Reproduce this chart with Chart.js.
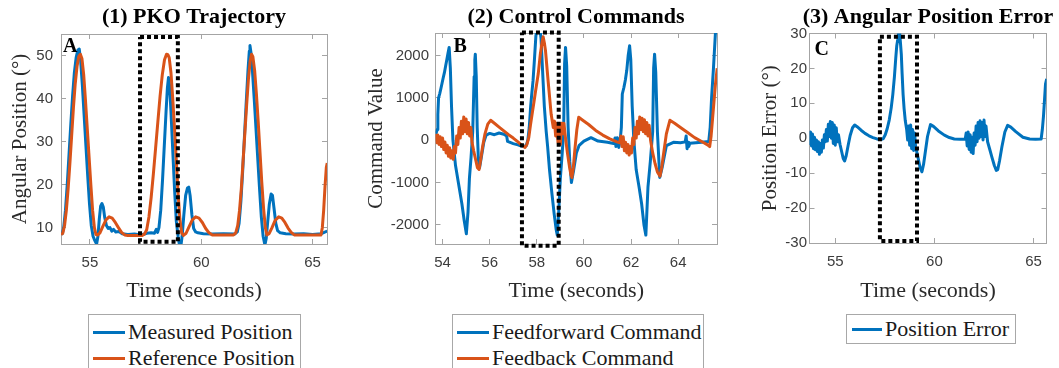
<!DOCTYPE html>
<html><head><meta charset="utf-8">
<script src="https://cdn.jsdelivr.net/npm/chart.js@4.4.1/dist/chart.umd.min.js"></script>
<style>
html,body{margin:0;padding:0;background:#fff;width:1059px;height:368px;overflow:hidden;position:relative;}
.panel{position:absolute;top:0;}
.legend{position:absolute;border:1px solid #a8a8a8;background:#fff;font-family:"Liberation Serif","Times New Roman",serif;font-size:22px;color:#1a1a1a;box-sizing:border-box;}
.item{position:absolute;left:0;height:26px;display:flex;align-items:center;white-space:nowrap;}
.swatch{display:inline-block;height:3px;margin-right:3px;}
</style></head><body>
<script>
// ---------------- DATA ----------------
// Panel 1: PKO trajectory (degrees)
const measuredTime = [53.70,53.76,53.82,53.90,53.98,54.06,54.14,54.22,54.30,54.38,54.46,54.52,54.58,54.66,54.74,54.82,54.90,54.98,55.06,55.14,55.22,55.30,55.36,55.42,55.48,55.54,55.60,55.66,55.74,55.82,55.90,55.98,56.06,56.16,56.30,56.45,56.70,57.00,57.30,57.55,57.75,57.90,57.98,58.04,58.10,58.18,58.26,58.34,58.42,58.48,58.53,58.58,58.64,58.72,58.80,58.88,58.96,59.02,59.08,59.14,59.22,59.30,59.38,59.44,59.50,59.58,59.66,59.75,59.85,60.10,60.50,61.00,61.50,61.62,61.70,61.78,61.86,61.94,62.02,62.10,62.16,62.19,62.24,62.30,62.38,62.46,62.54,62.62,62.70,62.78,62.86,62.92,62.98,63.06,63.14,63.20,63.27,63.35,63.43,63.55,63.80,64.20,64.60,65.00,65.40,65.66];
const measuredPosition = [8.8,8.6,10,14,20,27,34,40.5,46,49.5,51.3,51.5,49,43,36,29,22,15.5,10.5,8,7,6.2,8,12,15,15.6,14.8,12.5,10.5,9.8,10,9.2,9.6,9,9.1,8.6,8.4,8.5,8.3,8.7,8.8,8.7,9.6,8.9,10,14,21,29,37,42.5,44.9,43,37,28,19,11.5,8,6,5.5,8,13,17.5,19.2,19.4,17.5,13,9.8,9,8.8,8.6,8.5,8.6,8.5,9,11,16,23,31,39,46.5,51,52.3,50.5,46.5,40,33,26,19,12.5,8,6,7.5,11,15.5,17.8,17.5,14.5,11,9.3,8.8,8.6,8.5,8.6,8.4,8.6,9.2];
const referenceTime = [53.70,53.78,53.86,53.94,54.02,54.10,54.18,54.26,54.34,54.42,54.50,54.57,54.64,54.72,54.80,54.88,54.96,55.04,55.12,55.20,55.27,55.35,55.45,55.58,55.72,55.86,56.00,56.14,56.28,56.42,56.56,56.70,57.35,57.45,57.55,57.65,57.75,57.85,57.95,58.05,58.15,58.25,58.35,58.44,58.50,58.56,58.64,58.72,58.80,58.88,58.96,59.04,59.12,59.20,59.32,59.45,59.60,59.75,59.90,60.05,60.20,60.35,60.50,61.45,61.55,61.64,61.72,61.80,61.88,61.96,62.04,62.12,62.20,62.26,62.32,62.40,62.48,62.56,62.64,62.72,62.80,62.88,62.95,63.05,63.18,63.32,63.48,63.62,63.76,63.90,64.04,64.18,65.38,65.44,65.50,65.56,65.62,65.66];
const referencePosition = [8.4,8.7,10.5,14,19,25,31.5,38,43.5,47.5,49.8,50.3,49.3,45.5,39.5,33,26.5,20,14,10,8.4,8.3,8.8,10.3,11.8,12.5,12.2,11.2,10,8.9,8.3,8.2,8.2,8.5,9.5,12.5,17,22.5,28.5,34.5,40.5,45.5,49,50.3,50.2,49.5,46,40,33,25.5,18,12,8.8,8.2,8.7,10.2,11.8,12.5,12.2,11.2,9.8,8.8,8.3,8.3,8.8,10.5,14,19,25.5,32,38.5,44.5,48.8,50.3,49.7,46.5,41,34.5,27.5,20.5,14.5,10,8.3,8.6,10,11.7,12.5,12.2,11.2,9.9,8.9,8.3,8.3,10,14,19.5,24,25];

// Panel 2: control commands
const feedforwardTime = [53.72,53.77,53.80,53.83,53.88,53.93,53.98,54.03,54.08,54.13,54.18,54.23,54.28,54.33,54.38,54.44,54.55,54.70,54.82,54.92,55.01,55.08,55.14,55.21,55.28,55.34,55.37,55.39,55.43,55.47,55.52,55.57,55.64,55.75,55.85,56.00,56.20,56.40,56.60,56.72,56.76,57.00,57.20,57.40,57.55,57.62,57.68,57.74,57.78,57.84,57.90,57.96,58.02,58.12,58.18,58.24,58.32,58.40,58.46,58.54,58.64,58.74,58.82,58.87,58.93,59.00,59.08,59.14,59.18,59.22,59.27,59.33,59.40,59.47,59.56,59.68,59.80,60.00,60.30,60.60,61.00,61.26,61.32,61.36,61.42,61.48,61.54,61.59,61.63,61.70,61.76,61.82,61.88,61.94,61.99,62.05,62.12,62.22,62.34,62.45,62.55,62.63,62.72,62.82,62.92,62.96,63.00,63.05,63.12,63.22,63.32,63.50,63.80,64.10,64.30,64.34,64.38,64.42,64.45,64.50,65.00,65.30,65.36,65.42,65.50,65.58,65.66];
const feedforwardCommand = [150,250,600,1000,1100,1220,1350,1480,1600,1750,1900,2050,2190,1700,800,0,-600,-1100,-1500,-1900,-2210,-1700,-900,-400,200,1500,1900,2030,1500,300,-450,-650,-420,-50,120,160,130,170,140,100,-30,-80,-110,-150,-130,0,300,800,1050,1400,1900,2450,2700,2700,2400,1700,800,200,-150,-700,-1250,-1750,-2100,-2240,-1700,-900,-300,220,1800,2190,1750,300,-500,-1000,-720,-300,-120,-20,60,-20,-50,-80,50,-150,60,-170,0,300,1090,1250,1420,1650,2000,2230,1900,800,0,-700,-1100,-1500,-2000,-2240,-1100,-500,200,1700,2030,1600,200,-880,-650,-130,-50,-60,-40,100,-200,-50,-150,-70,-50,-30,300,1000,1700,2500,2800];
const feedbackTime = [53.72,53.76,53.80,53.85,53.90,53.95,54.00,54.05,54.10,54.15,54.20,54.25,54.30,54.35,54.40,54.45,54.50,54.55,54.60,54.65,54.70,54.75,54.80,54.85,54.90,54.95,55.00,55.05,55.10,55.15,55.20,55.25,55.32,55.40,55.48,55.55,55.62,55.70,55.80,55.92,56.04,56.20,56.40,56.60,56.80,57.00,57.20,57.38,57.50,57.58,57.66,57.73,57.80,57.88,57.95,58.06,58.15,58.22,58.27,58.32,58.37,58.48,58.61,58.70,58.75,58.80,58.85,58.90,58.95,59.00,59.05,59.10,59.15,59.22,59.30,59.38,59.45,59.49,59.55,59.62,59.70,59.78,59.95,60.20,60.50,60.80,61.10,61.40,61.52,61.57,61.62,61.67,61.72,61.77,61.82,61.87,61.92,61.97,62.02,62.07,62.12,62.17,62.22,62.27,62.32,62.37,62.42,62.47,62.52,62.57,62.62,62.67,62.72,62.77,62.83,62.92,63.02,63.12,63.23,63.30,63.40,63.50,63.65,63.85,64.10,64.40,64.70,65.00,65.25,65.34,65.40,65.46,65.52,65.58,65.66];
const feedbackCommand = [150,-60,120,-100,80,-150,50,-220,-40,-300,-120,-380,-180,-420,-250,-450,-150,-300,100,-100,300,50,450,150,550,200,500,150,420,100,300,-50,-250,-450,-650,-690,-450,-150,150,380,470,400,310,220,130,50,-40,-130,-170,-100,60,350,610,900,1165,1560,2030,2300,2440,2300,2110,1400,610,300,450,100,400,-50,350,-100,400,150,400,50,-300,-600,-820,-880,-650,-200,250,540,470,370,230,120,30,-40,-60,100,-150,80,-250,-50,-300,-100,-350,-150,-300,50,-100,300,50,450,150,550,250,520,200,480,150,420,100,350,0,-300,-550,-750,-850,-650,-250,150,470,400,300,180,60,-30,-110,-150,100,500,900,1300,1700];

// Panel 3: angular position error (degrees)
const errorTime = [53.65,53.70,53.75,53.80,53.85,53.90,53.95,54.00,54.05,54.10,54.15,54.20,54.25,54.30,54.35,54.40,54.45,54.50,54.55,54.60,54.65,54.70,54.75,54.80,54.85,54.90,54.95,55.00,55.05,55.10,55.16,55.24,55.32,55.40,55.47,55.55,55.65,55.75,55.87,55.98,56.10,56.30,56.50,56.70,56.90,57.10,57.30,57.42,57.52,57.62,57.72,57.82,57.90,57.98,58.05,58.10,58.15,58.19,58.22,58.25,58.29,58.33,58.37,58.42,58.47,58.53,58.60,58.65,58.70,58.75,58.80,58.85,58.90,58.95,59.00,59.05,59.12,59.20,59.28,59.37,59.45,59.55,59.65,59.80,59.95,60.20,60.50,60.75,61.00,61.30,61.55,61.60,61.65,61.70,61.75,61.80,61.85,61.90,61.95,62.00,62.05,62.10,62.15,62.20,62.25,62.30,62.35,62.40,62.45,62.50,62.55,62.60,62.68,62.78,62.90,63.02,63.12,63.19,63.28,63.40,63.55,63.69,63.85,64.10,64.46,64.80,65.10,65.38,65.44,65.50,65.55,65.60,65.66];
const positionError = [0.5,-1.5,1.8,-2.2,1.2,-3,0.3,-3.3,-0.5,-3.8,-1,-4.6,-1.5,-4,-0.5,-2.8,1,-1,2.5,-0.8,4,0.5,4.8,0,4.5,-1.5,3.8,-2,3,-1,1,-1.8,-3.8,-5.8,-6.5,-5,-2,0.8,3,3.8,3.3,2.3,1.4,0.7,0.2,-0.2,-0.4,-0.1,1,2.8,5.2,8.7,12.5,17.5,23,26.5,28.3,30,28.8,30,27,24,18.5,12.5,8.5,5,2.5,-0.5,3.5,-2,3.8,-3,2.5,-3.5,1.5,-2.5,-4.2,-6.3,-8.5,-9.6,-7.5,-3.5,0.5,3.9,3.4,2.1,0.9,0.2,-0.2,-0.3,-0.3,1.5,-2.2,1.8,-3.2,1,-4,0.3,-4.4,1.5,-2,3.5,-1,4.5,0,5,0.5,4.5,-0.5,5.2,0.5,3.5,-1,-3,-5.5,-7.8,-9.2,-9,-6.5,-2.5,1.8,3.7,3.2,1.9,0.3,-0.2,-0.3,-0.2,2.5,6.5,11,15.5,17];

// Highlighted window (dotted boxes)
const window1Time = [57.25, 58.95];  const window1Value = [6.7, 54.3];
const window2Time = [57.37, 58.93];  const window2Value = [-2490, 2540];
const window3Time = [57.25, 59.12];  const window3Value = [-29.4, 29.1];

// Axis ranges and ticks
const timeRange = [53.7, 65.65];
const xTicks1 = [55, 60, 65];
const xTicks2 = [54, 56, 58, 60, 62, 64];
const xTicks3 = [55, 60, 65];
const yRange1 = [6.2, 55];       const yTicks1 = [10, 20, 30, 40, 50];
const yRange2 = [-2450, 2530];   const yTicks2 = [-2000, -1000, 0, 1000, 2000];
const yRange3 = [-30, 30];       const yTicks3 = [-30, -20, -10, 0, 10, 20, 30];

// ---------------- STYLE ----------------
const BLUE = '#0072BD', ORANGE = '#D95319';
const SERIF = '"Liberation Serif","Times New Roman",serif';
const SANS = '"Liberation Sans",Arial,sans-serif';
const BOX = '#a4a4a4', TICKC = '#3c3c3c', LABC = '#2a2a2a';
const H = 310;

function xy(t, v) { return t.map((x, i) => ({x: x, y: v[i]})); }
function windowRect(t, v) {
  return [{x:t[0],y:v[1]},{x:t[1],y:v[1]},{x:t[1],y:v[0]},{x:t[0],y:v[0]},{x:t[0],y:v[1]}];
}

const letterPlugin = {
  id: 'panelLetter',
  afterDatasetsDraw(chart, args, o) {
    const {ctx, chartArea} = chart;
    ctx.save();
    ctx.font = 'bold 20px ' + SERIF;
    ctx.fillStyle = '#000';
    ctx.textBaseline = 'alphabetic';
    ctx.fillText(o.text, chartArea.left + o.dx, chartArea.top + o.dy);
    ctx.restore();
  }
};

function buildPanel(p) {
  const wrap = document.createElement('div');
  wrap.className = 'panel';
  wrap.style.left = p.canvasLeft + 'px';
  wrap.style.width = p.canvasWidth + 'px';
  wrap.style.height = H + 'px';
  const cv = document.createElement('canvas');
  cv.width = p.canvasWidth; cv.height = H;
  cv.style.width = p.canvasWidth + 'px'; cv.style.height = H + 'px';
  wrap.appendChild(cv);
  document.body.appendChild(wrap);

  const leftW = p.plotLeft - p.canvasLeft;
  const rightW = p.canvasLeft + p.canvasWidth - p.plotRight;
  const bottomH = H - p.plotBottom;
  const tLH = 22 * 1.2;
  const tTop = 17 - tLH / 2;
  const tBottom = p.plotTop - tLH - tTop;
  const aLH = 22 * 1.2;
  const yLH = 21 * 1.2;

  const grid = {display: true, drawOnChartArea: false, drawTicks: true, tickLength: -5, color: BOX, lineWidth: 1};
  const border = {display: true, color: BOX, width: 1};
  const setTicks = arr => (s => { s.ticks = arr.map(v => ({value: v})); });

  const datasets = [{
    label: '', data: windowRect(p.winT, p.winV), borderColor: '#000', borderWidth: 4,
    borderDash: [4, 3], pointRadius: 0, fill: false, order: 0, clip: false, borderCapStyle: 'butt'
  }];
  p.series.forEach((s, i) => datasets.push({
    label: s.label, data: xy(s.t, s.v), borderColor: s.color, backgroundColor: s.color,
    borderWidth: 3, pointRadius: 0, fill: false, tension: 0, order: s.order, borderJoinStyle: 'round'
  }));

  const chart = new Chart(cv, {
    type: 'line',
    data: {datasets},
    options: {
      responsive: false, animation: false, devicePixelRatio: 1,
      layout: {padding: 0},
      plugins: {
        legend: {display: false}, tooltip: {enabled: false},
        title: {display: true, text: p.title, color: '#000', fullSize: true,
                font: {family: SERIF, size: 22, weight: 'bold', lineHeight: 1.2},
                padding: {top: tTop, bottom: tBottom}},
        panelLetter: {text: p.letter, dx: p.letterDx, dy: p.letterDy}
      },
      scales: {
        x: {type: 'linear', position: 'bottom', min: timeRange[0], max: timeRange[1],
            afterBuildTicks: setTicks(p.xTicks), afterFit: s => { s.height = bottomH; },
            ticks: {font: {family: SANS, size: 15}, color: TICKC, padding: 15, maxRotation: 0, autoSkip: false, callback: v => String(v)},
            title: {display: true, text: 'Time (seconds)', color: LABC, font: {family: SERIF, size: 22, lineHeight: 1.2}, padding: {top: 0, bottom: H - 291 - aLH / 2}},
            grid, border},
        x2: {type: 'linear', position: 'top', min: timeRange[0], max: timeRange[1],
            afterBuildTicks: setTicks(p.xTicks), afterFit: s => { s.height = 0; },
            ticks: {display: false}, grid, border},
        y: {type: 'linear', position: 'left', min: p.yRange[0], max: p.yRange[1],
            afterBuildTicks: setTicks(p.yTicks), afterFit: s => { s.width = leftW; },
            ticks: {font: {family: SANS, size: 15}, color: TICKC, padding: p.yPad, autoSkip: false, callback: v => String(v)},
            title: {display: true, text: p.yTitle, color: LABC, font: {family: SERIF, size: 21, lineHeight: 1.2}, padding: {top: p.yTitleX - yLH / 2, bottom: 0}},
            grid, border},
        y2: {type: 'linear', position: 'right', min: p.yRange[0], max: p.yRange[1],
            afterBuildTicks: setTicks(p.yTicks), afterFit: s => { s.width = rightW; },
            ticks: {display: false}, grid, border}
      }
    },
    plugins: [letterPlugin]
  });

  // HTML legend generated from the chart's datasets
  const lg = document.createElement('div');
  lg.className = 'legend';
  lg.style.left = p.legend.left + 'px'; lg.style.top = p.legend.top + 'px';
  lg.style.width = p.legend.width + 'px'; lg.style.height = p.legend.height + 'px';
  chart.data.datasets.filter(d => d.label).forEach((d, i) => {
    const it = document.createElement('div');
    it.className = 'item';
    it.style.top = (p.legend.rowTop + i * 26) + 'px';
    it.style.paddingLeft = p.legend.swLeft + 'px';
    const sw = document.createElement('span');
    sw.className = 'swatch'; sw.style.width = p.legend.swW + 'px'; sw.style.background = d.borderColor;
    const tx = document.createElement('span'); tx.textContent = d.label;
    it.appendChild(sw); it.appendChild(tx); lg.appendChild(it);
  });
  document.body.appendChild(lg);
  return chart;
}

buildPanel({
  canvasLeft: 0, canvasWidth: 388, plotLeft: 61, plotRight: 327, plotTop: 34, plotBottom: 244,
  title: '(1) PKO Trajectory', yTitle: 'Angular Position (°)', yTitleX: 20, yPad: 13,
  xTicks: xTicks1, yTicks: yTicks1, yRange: yRange1, winT: window1Time, winV: window1Value,
  letter: 'A', letterDx: 2, letterDy: 18,
  series: [
    {label: 'Measured Position', t: measuredTime, v: measuredPosition, color: BLUE, order: 2},
    {label: 'Reference Position', t: referenceTime, v: referencePosition, color: ORANGE, order: 1}
  ],
  legend: {left: 88, top: 314, width: 213, height: 70, rowTop: 4, swLeft: 4, swW: 32}
});
buildPanel({
  canvasLeft: 340, canvasWidth: 472, plotLeft: 435.5, plotRight: 717, plotTop: 33, plotBottom: 244,
  title: '(2) Control Commands', yTitle: 'Command Value', yTitleX: 36, yPad: 11.5,
  xTicks: xTicks2, yTicks: yTicks2, yRange: yRange2, winT: window2Time, winV: window2Value,
  letter: 'B', letterDx: 18, letterDy: 19,
  series: [
    {label: 'Feedforward Command', t: feedforwardTime, v: feedforwardCommand, color: BLUE, order: 2},
    {label: 'Feedback Command', t: feedbackTime, v: feedbackCommand, color: ORANGE, order: 1}
  ],
  legend: {left: 452, top: 314, width: 252, height: 70, rowTop: 4, swLeft: 4, swW: 32}
});
buildPanel({
  canvasLeft: 720, canvasWidth: 416, plotLeft: 809.5, plotRight: 1046.5, plotTop: 33.5, plotBottom: 243,
  title: '(3) Angular Position Error', yTitle: 'Position Error (°)', yTitleX: 50, yPad: 7.5,
  xTicks: xTicks3, yTicks: yTicks3, yRange: yRange3, winT: window3Time, winV: window3Value,
  letter: 'C', letterDx: 5, letterDy: 21,
  series: [
    {label: 'Position Error', t: errorTime, v: positionError, color: BLUE, order: 1}
  ],
  legend: {left: 846, top: 314, width: 170, height: 30, rowTop: 1, swLeft: 5, swW: 30}
});
</script>
</body></html>
